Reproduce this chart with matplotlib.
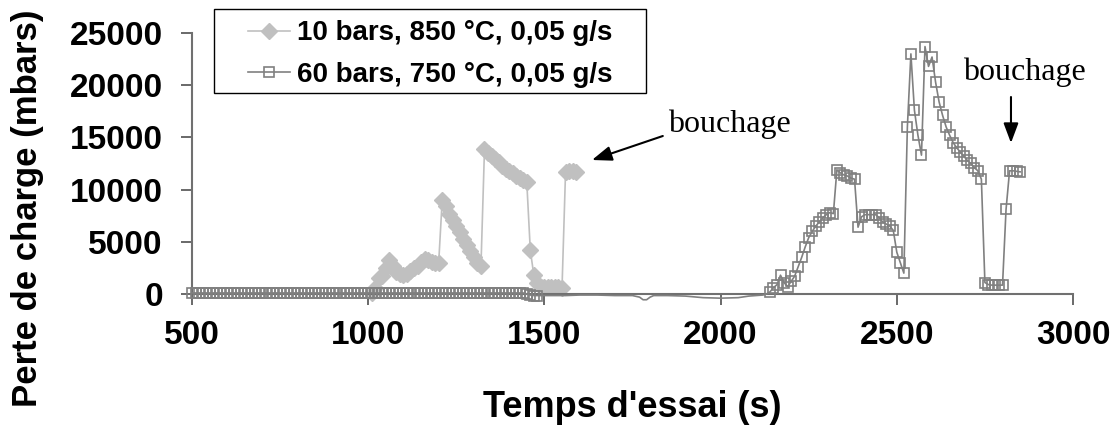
import numpy as np
import matplotlib
matplotlib.use("Agg")
import matplotlib.pyplot as plt
from matplotlib.lines import Line2D
from matplotlib.patches import Rectangle

# ---------------- data ----------------
label_1 = "10 bars, 850 °C, 0,05 g/s"
label_2 = "60 bars, 750 °C, 0,05 g/s"

# series 1 (10 bars) : time grid 1010..1590 s, step 10 s
t1 = np.arange(1010, 1600, 10)
v1 = [100, 600, 1500, 1700, 2500, 3300, 2700, 2100, 1900, 1800,
      1900, 2200, 2500, 2700, 3100, 3400, 3300, 3100, 3000, 3000,
      9000, 8400, 7700, 7100, 6500, 5900, 5300, 4700, 4100, 3500,
      3000, 2700, 13900, 13500, 13200, 12900, 12600, 12250, 12000, 11800,
      11550, 11350, 11150, 10950, 10700, 4200, 1800, 1100, 700, 650,
      650, 650, 650, 650, 600, 11700, 11750, 11750, 11700]

# series 2 (60 bars), part A: 500..1480 s step 10 s (with markers)
t2a = np.arange(500, 1490, 10)
v2a = [100, 100, 100, 100, 100, 100, 100, 100, 100, 100,
       100, 100, 100, 100, 100, 100, 100, 100, 100, 100,
       100, 100, 100, 100, 100, 100, 100, 100, 100, 100,
       100, 100, 100, 100, 100, 100, 100, 100, 100, 100,
       100, 100, 100, 100, 100, 100, 100, 100, 100, 100,
       100, 100, 100, 100, 100, 100, 100, 100, 100, 100,
       100, 100, 100, 100, 100, 100, 100, 100, 100, 100,
       100, 100, 100, 100, 100, 100, 100, 100, 100, 100,
       100, 100, 100, 100, 100, 100, 100, 100, 100, 100,
       100, 100, 100, 100, 100, 0, -100, -150, -150]

# part B: 1490..2130 s (plotted without markers)
t2b = [1490, 1520, 1560, 1600, 1650, 1700, 1750, 1770, 1780, 1790, 1800,
       1810, 1850, 1900, 1950, 2000, 2050, 2080, 2100, 2120, 2130]
v2b = [-150, -150, -150, -100, -100, -150, -150, -300, -550, -550, -300,
       -150, -150, -200, -350, -400, -350, -200, -150, -100, 0]

# part C: 2140..2850 s step 10 s (with markers)
t2c = np.arange(2140, 2860, 10)
v2c = [200, 600, 900, 1800, 1100, 700, 1200, 1700, 2600, 3500,
       4500, 5400, 6000, 6500, 6900, 7300, 7600, 7800, 7700, 11900,
       11600, 11400, 11300, 11100, 11000, 6400, 7400, 7600, 7600, 7600,
       7600, 7300, 6900, 6700, 6500, 6100, 4000, 3000, 2000, 16000,
       23000, 17600, 15200, 13300, 23700, 21800, 22700, 20300, 18400, 17100,
       16000, 15200, 14500, 14000, 13600, 13200, 12800, 12500, 12100, 11800,
       11000, 1100, 900, 850, 850, 850, 850, 8100, 11800, 11800,
       11750, 11700]

x_ticks = [500, 1000, 1500, 2000, 2500, 3000]
y_ticks = [0, 5000, 10000, 15000, 20000, 25000]
x_label = "Temps d'essai (s)"
y_label = "Perte de charge (mbars)"
annot_text = "bouchage"

# ---------------- figure ----------------
plt.rcParams['font.family'] = ['Liberation Sans', 'DejaVu Sans']
W, H = 1119, 430
fig = plt.figure(figsize=(W / 100, H / 100), dpi=100)
ax = fig.add_axes([192 / W, 1 - 294 / H, (1073 - 192) / W, (294 - 33) / H])

c1 = '#c0c0c0'
c2 = '#808080'

ax.plot(t1, v1, color=c1, lw=1.2, marker='D', ms=8, mfc=c1, mec=c1,
        clip_on=False, zorder=2)

t2 = np.concatenate([t2a, t2b, t2c])
v2 = np.concatenate([v2a, v2b, v2c])
mask = [((t <= 1485) or (t >= 2135)) and (t not in t2b) for t in t2]
ax.plot(t2, v2, color=c2, lw=1.2, marker='s', ms=7.5, mfc='none', mec=c2,
        mew=1.2, markevery=mask, clip_on=False, zorder=3)

ax.set_xlim(500, 3000)
ax.set_ylim(0, 25000)
ax.set_xticks(x_ticks)
ax.set_yticks(y_ticks)
ax.tick_params(axis='both', direction='out', length=8, width=1.2,
               color='#505050', labelsize=24)
ax.tick_params(axis='y', pad=13)
ax.tick_params(axis='x', pad=11)
for lab in ax.get_xticklabels() + ax.get_yticklabels():
    lab.set_fontweight('bold')
for s in ['top', 'right']:
    ax.spines[s].set_visible(False)
for s in ['left', 'bottom']:
    ax.spines[s].set_color('#707070')
    ax.spines[s].set_linewidth(1.5)

ax.set_xlabel(x_label, fontsize=26, fontweight='bold', labelpad=28)
fig.text(28 / W, 1 - 208 / H, y_label, rotation=90, fontsize=25,
         fontweight='bold', ha='center', va='center')

# legend (frame drawn separately)
handles = [
    Line2D([], [], color=c1, lw=1.2, marker='D', ms=8, mfc=c1, mec=c1),
    Line2D([], [], color=c2, lw=1.2, marker='s', ms=7.5, mfc='none', mec=c2, mew=1.2),
]
leg = ax.legend(handles, [label_1, label_2], loc='center left',
                bbox_to_anchor=(248 / W, 1 - 54 / H), bbox_transform=fig.transFigure,
                borderaxespad=0, frameon=False, borderpad=0,
                prop={'weight': 'bold', 'size': 20}, handlelength=1.5,
                handletextpad=0.28, labelspacing=0.55)
fig.patches.append(Rectangle((214 / W, 1 - 93 / H), 432 / W, 84 / H,
                             transform=fig.transFigure, fill=False,
                             ec='black', lw=1.0))

# annotations
ax.text(1851, 15500, annot_text, fontsize=23, family='Liberation Serif',
        ha='left', va='baseline')
ax.annotate('', xy=(1635, 12835), xytext=(1836, 15134),
            arrowprops=dict(arrowstyle='-|>,head_length=1.2,head_width=0.45',
                            color='black', lw=1.5, shrinkA=0, shrinkB=0))
ax.text(2688, 20500, annot_text, fontsize=23, family='Liberation Serif',
        ha='left', va='baseline')
ax.annotate('', xy=(2824, 14464), xytext=(2824, 18870),
            arrowprops=dict(arrowstyle='-|>,head_length=1.2,head_width=0.45',
                            color='black', lw=1.5, shrinkA=0, shrinkB=0))

fig.savefig('out.png', dpi=100)
